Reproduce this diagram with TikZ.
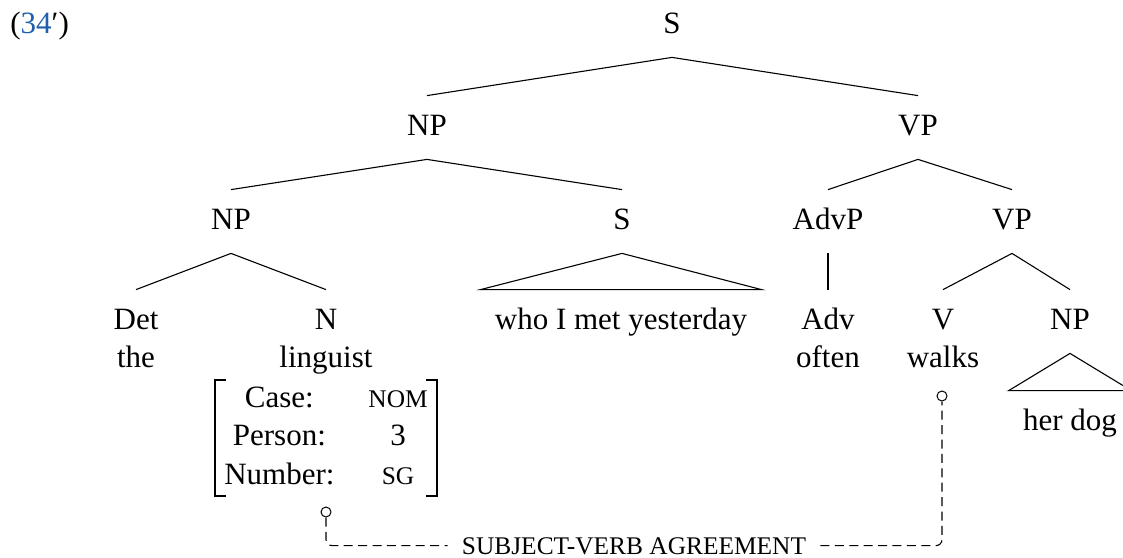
\documentclass[tikz,border=0pt]{standalone}
\usepackage{fontspec}
\setmainfont{Liberation Serif}
\definecolor{refblue}{RGB}{31,95,173}
% small capitals, set as reduced uppercase
\newcommand\capsize{\fontsize{12.7}{15}\selectfont}
\begin{document}
\begin{tikzpicture}[x=0.5pt,y=-0.5pt,
  font=\fontsize{15.5}{19.25}\selectfont,
  cat/.style={anchor=base,inner sep=0pt,text height=19.5pt,text depth=12pt},
  word/.style={anchor=base,inner sep=0pt},
  leaf/.style={anchor=base,inner ysep=0pt,inner xsep=7pt,text height=19.5pt},
  branch/.style={line width=0.55pt},
  pin/.style={circle,draw,line width=0.5pt,inner sep=0pt,minimum size=5pt},
  agree/.style={line width=0.55pt,dash pattern=on 4.5pt off 2.7pt,rounded corners=3pt},
  bracket/.style={line width=1pt}]
\useasboundingbox (0,0) rectangle (1123,557);

% example number
\node[word,anchor=base west] (ex) at (10,33) {(\textcolor{refblue}{34}′)};

% categories
\node[cat] (S) at (672,33) {S};
\node[cat] (NPa) at (427,135) {NP};
\node[cat] (VPa) at (918,135) {VP};
\node[cat] (NPb) at (231,229) {NP};
\node[cat] (Sb) at (622,229) {S};
\node[cat] (AdvP) at (828,229) {AdvP};
\node[cat] (VPb) at (1012,229) {VP};
\node[cat] (Det) at (136,329) {Det};
\node[cat] (N) at (326,329) {N};
\node[leaf] (rel) at (621,329) {who I met yesterday};
\node[cat] (Adv) at (828,329) {Adv};
\node[cat] (V) at (943,329) {V};
\node[cat] (NPc) at (1070,329) {NP};

% words
\node[word] (the) at (136,367) {the};
\node[word] (linguist) at (326,367) {linguist};
\node[word] (often) at (828,367) {often};
\node[word] (walks) at (943,367) {walks};
\node[leaf] (herdog) at (1070,430) {her dog};

% branches
\draw[branch] (NPa.north) -- (S.south) -- (VPa.north);
\draw[branch] (NPb.north) -- (NPa.south) -- (Sb.north);
\draw[branch] (AdvP.north) -- (VPa.south) -- (VPb.north);
\draw[branch] (Det.north) -- (NPb.south) -- (N.north);
\draw[branch] (AdvP.south) -- (Adv.north);
\draw[branch] (V.north) -- (VPb.south) -- (NPc.north);
\draw[branch] (Sb.south) -- (rel.north west) -- (rel.north east) -- cycle;
\draw[branch] (NPc.south) -- (herdog.north west) -- (herdog.north east) -- cycle;

% feature structure of the noun
\node[anchor=north,inner xsep=4.5pt,inner ysep=0pt] (fs) at (326,380)
  {\begin{tabular}{@{}c@{\hspace{17pt}}c@{}}
   Case: & {\capsize NOM}\\
   Person: & 3\\
   Number: & {\capsize SG}
   \end{tabular}};
\draw[bracket] ([xshift=5.5pt]fs.north west) -- (fs.north west) -- (fs.south west) -- ([xshift=5.5pt]fs.south west);
\draw[bracket] ([xshift=-5.5pt]fs.north east) -- (fs.north east) -- (fs.south east) -- ([xshift=-5.5pt]fs.south east);

% agreement link
\node[pin] (p1) at (326,512) {};
\node[pin] (p2) at (942,396) {};
\node[font=\capsize,anchor=base,inner xsep=7pt,inner ysep=0pt,text height=8.4pt,text depth=0pt] (agr) at (634,554) {SUBJECT-VERB AGREEMENT};
\draw[agree] (p1.south) |- (agr.west);
\draw[agree] (agr.east) -| (p2.south);
\end{tikzpicture}
\end{document}
